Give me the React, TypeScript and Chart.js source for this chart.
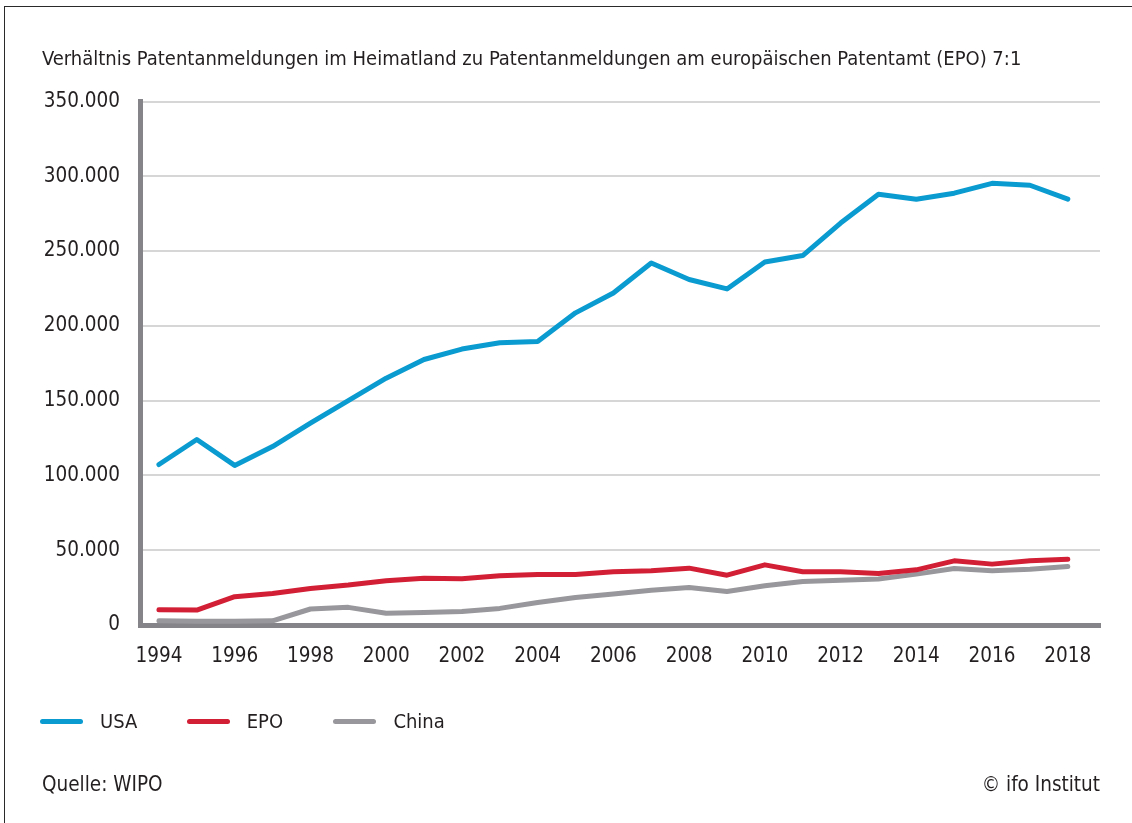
import React, { useEffect, useRef } from "react";
import { Chart, registerables } from "chart.js";

Chart.register(...registerables);

const years = [1994, 1995, 1996, 1997, 1998, 1999, 2000, 2001, 2002, 2003, 2004, 2005, 2006, 2007, 2008, 2009, 2010, 2011, 2012, 2013, 2014, 2015, 2016, 2017, 2018];
const usaValues = [107300, 124000, 106700, 119300, 135000, 150000, 165000, 177500, 184500, 188700, 189500, 208700, 222000, 242000, 231000, 224700, 242700, 247000, 268700, 288000, 284700, 288700, 295300, 294000, 284700];
const epoValues = [10200, 10000, 18900, 21000, 24400, 26700, 29600, 31300, 31000, 32900, 33800, 33800, 35600, 36200, 38000, 33300, 40200, 35600, 35600, 34400, 36900, 42900, 40700, 42900, 44000];
const chinaValues = [2800, 2500, 2500, 2800, 10700, 11800, 7800, 8400, 9100, 11100, 15100, 18400, 20700, 23200, 25000, 22400, 26200, 29100, 30000, 30700, 34000, 37800, 36200, 37300, 39100];

const seriesNames = ["USA", "EPO", "China"];
const seriesColors = ["#0a9bd0", "#d31f35", "#98989c"];

const xTickYears = [1994, 1996, 1998, 2000, 2002, 2004, 2006, 2008, 2010, 2012, 2014, 2016, 2018];
const yTickValues = [0, 50000, 100000, 150000, 200000, 250000, 300000, 350000];
const yTickLabels = ["0", "50.000", "100.000", "150.000", "200.000", "250.000", "300.000", "350.000"];

const titleText = "Verhältnis Patentanmeldungen im Heimatland zu Patentanmeldungen am europäischen Patentamt (EPO) 7:1";
const sourceText = "Quelle: WIPO";
const copyrightText = "© ifo Institut";

const FONT = "'Liberation Sans Narrow', 'DejaVu Sans Condensed', 'Open Sans', sans-serif";
const TEXT_COLOR = "#231f20";
const AXIS_COLOR = "#848489";
const GRID_COLOR = "#d6d6d6";

const W = 1132;
const H = 823;

export default function App() {
  const canvasRef = useRef<HTMLCanvasElement | null>(null);

  useEffect(() => {
    const canvas = canvasRef.current;
    if (!canvas) return;
    const seriesValues = [usaValues, epoValues, chinaValues];
    const chart = new Chart(canvas, {
      type: "line",
      data: {
        datasets: seriesNames.map((name, si) => ({
          label: name,
          data: years.map((yr, i) => ({ x: yr, y: seriesValues[si][i] })),
          borderColor: seriesColors[si],
          backgroundColor: seriesColors[si],
          borderWidth: 5,
          pointRadius: 0,
          pointHoverRadius: 0,
          tension: 0,
          borderCapStyle: "round",
          borderJoinStyle: "round",
          fill: false,
          order: si,
        })),
      },
      options: {
        responsive: false,
        animation: false,
        devicePixelRatio: 1,
        layout: { padding: { left: 42, right: 32, top: 101.5, bottom: 148 } },
        plugins: {
          legend: { display: false },
          tooltip: { enabled: false },
          title: { display: false },
        },
        scales: {
          x: {
            type: "linear",
            min: 1993.5,
            max: 2018.85,
            afterBuildTicks: (scale: any) => {
              scale.ticks = xTickYears.map((v) => ({ value: v }));
            },
            afterFit: (scale: any) => {
              scale.height = 50;
            },
            grid: { display: false, drawTicks: false },
            border: { display: true, color: AXIS_COLOR, width: 5 },
            ticks: {
              autoSkip: false,
              maxRotation: 0,
              padding: 19,
              color: TEXT_COLOR,
              font: { family: FONT, size: 20.5 },
              callback: (v: any) => String(v),
            },
          },
          y: {
            type: "linear",
            min: 0,
            max: 350000,
            afterBuildTicks: (scale: any) => {
              scale.ticks = yTickValues.map((v) => ({ value: v }));
            },
            afterFit: (scale: any) => {
              scale.width = 98;
            },
            grid: { color: GRID_COLOR, lineWidth: 2, drawTicks: false },
            border: { display: true, color: AXIS_COLOR, width: 5 },
            ticks: {
              padding: 20,
              color: TEXT_COLOR,
              font: { family: FONT, size: 20.5 },
              callback: (_v: any, i: number) => yTickLabels[i],
            },
          },
        },
      },
    });
    return () => chart.destroy();
  }, []);

  const textStyle: React.CSSProperties = {
    position: "absolute",
    fontFamily: FONT,
    color: TEXT_COLOR,
    lineHeight: 1,
    whiteSpace: "nowrap",
  };

  return (
    <div style={{ position: "absolute", left: 0, top: 0, width: W, height: H, overflow: "hidden", background: "#fff" }}>
      <div style={{ position: "absolute", left: 4, top: 6, width: 1400, height: 1200, borderTop: "1.5px solid #2a2a2a", borderLeft: "1.5px solid #2a2a2a" }} />
      <canvas ref={canvasRef} width={W} height={H} style={{ position: "absolute", left: 0, top: 0, width: W, height: H }} />
      <div style={{ ...textStyle, left: 42, top: 48, fontSize: 20 }}>{titleText}</div>
      <div style={{ position: "absolute", left: 40, top: 708, display: "flex" }}>
        {seriesNames.map((name, i) => (
          <div key={name} style={{ width: 146.7, display: "flex", alignItems: "center", height: 26 }}>
            <span style={{ display: "inline-block", width: 43, height: 5, borderRadius: 3, background: seriesColors[i], marginRight: 17 }} />
            <span style={{ fontFamily: FONT, color: TEXT_COLOR, fontSize: 20, lineHeight: 1 }}>{name}</span>
          </div>
        ))}
      </div>
      <div style={{ ...textStyle, left: 42, top: 774, fontSize: 20.5 }}>{sourceText}</div>
      <div style={{ ...textStyle, right: 32, top: 774, fontSize: 20.5 }}>{copyrightText}</div>
    </div>
  );
}
